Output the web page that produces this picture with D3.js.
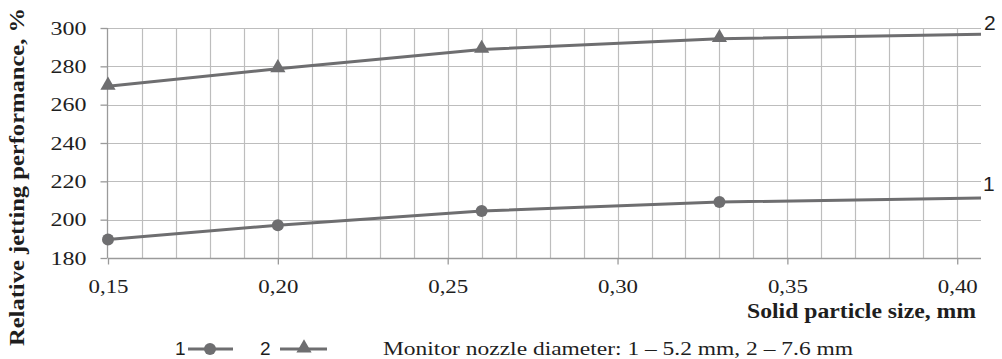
<!DOCTYPE html>
<html>
<head>
<meta charset="utf-8">
<script src="https://cdn.jsdelivr.net/npm/d3@7"></script>
<style>
  body { margin: 0; background: #fff; }
  svg { display: block; }
</style>
</head>
<body>
<script>
// data
var sizes = [0.15, 0.20, 0.26, 0.33, 0.407];
var series1 = [189.6, 197.1, 204.5, 209.2, 211.3];   // 1 - 5.2 mm
var series2 = [269.6, 278.7, 288.8, 294.4, 296.7];   // 2 - 7.6 mm
var xTicks = [0.15, 0.20, 0.25, 0.30, 0.35, 0.40];
var yTicks = [180, 200, 220, 240, 260, 280, 300];

(function(){

var width = 1002, height = 359;
var left = 108, right = 981, top = 28, bottom = 258;
var lineColor = "#6e6e70", gridColor = "#bdbdbd", textColor = "#1e1e1e";
var serif = "Liberation Serif, Times New Roman, serif",
    sans = "Liberation Sans, Arial, sans-serif";

var svg = d3.select("body").append("svg")
    .attr("width", width)
    .attr("height", height);

var x = d3.scaleLinear().domain([0.15, 0.407]).range([left, right]);
var y = d3.scaleLinear().domain([180, 300]).range([bottom, top]);

//grid lines every 0.01 and 20
var vGrid = d3.range(16, 41).map(function(d){ return d / 100; });
svg.append("g").selectAll("line")
    .data(vGrid)
    .enter().append("line")
    .attr("x1", function(d){ return Math.round(x(d)) + 0.5; })
    .attr("x2", function(d){ return Math.round(x(d)) + 0.5; })
    .attr("y1", top).attr("y2", bottom)
    .attr("stroke", gridColor).attr("stroke-width", 1.2);

svg.append("g").selectAll("line")
    .data(yTicks.slice(1))
    .enter().append("line")
    .attr("x1", left).attr("x2", right)
    .attr("y1", function(d){ return Math.round(y(d)) + 0.5; })
    .attr("y2", function(d){ return Math.round(y(d)) + 0.5; })
    .attr("stroke", gridColor).attr("stroke-width", 1.2);

//axes
var xAxis = d3.axisBottom(x)
    .tickValues(xTicks)
    .tickSize(6)
    .tickPadding(15)
    .tickFormat(function(d){ return d3.format(".2f")(d).replace(".", ","); });
var gx = svg.append("g")
    .attr("font-family", serif)
    .attr("font-size", 19)
    .attr("transform", "translate(0," + (bottom + 0.5) + ")")
    .call(xAxis);
gx.attr("font-family", serif).attr("font-size", 19);
gx.selectAll("line, path").attr("stroke", "#9a9a9a").attr("stroke-width", 1.3);
gx.select(".domain").attr("d", "M" + left + ",0H" + right);
gx.selectAll(".tick text")
    .attr("fill", textColor)
    .attr("textLength", 40).attr("lengthAdjust", "spacingAndGlyphs");

var yAxis = d3.axisLeft(y)
    .tickValues(yTicks)
    .tickSize(7)
    .tickPadding(14);
var gy = svg.append("g")
    .attr("transform", "translate(" + (left - 0.5) + ",0)")
    .call(yAxis);
gy.attr("font-family", serif).attr("font-size", 19);
gy.selectAll("line, path").attr("stroke", "#9a9a9a").attr("stroke-width", 1.3);
gy.select(".domain").attr("d", "M0," + bottom + "V" + top);
gy.selectAll(".tick text")
    .attr("fill", textColor)
    .attr("textLength", 36).attr("lengthAdjust", "spacingAndGlyphs");

//lines
var line = d3.line()
    .x(function(d, i){ return x(sizes[i]); })
    .y(function(d){ return y(d); });

[series1, series2].forEach(function(s){
    svg.append("path")
        .datum(s)
        .attr("d", line)
        .attr("fill", "none")
        .attr("stroke", lineColor)
        .attr("stroke-width", 3);
});

//markers (not on the end point)
svg.selectAll(".dot")
    .data(series1.slice(0, 4))
    .enter().append("circle")
    .attr("cx", function(d, i){ return x(sizes[i]); })
    .attr("cy", function(d){ return y(d); })
    .attr("r", 6)
    .attr("fill", lineColor);

var tri = d3.symbol().type(d3.symbolTriangle).size(100);
svg.selectAll(".tri")
    .data(series2.slice(0, 4))
    .enter().append("path")
    .attr("d", tri)
    .attr("transform", function(d, i){ return "translate(" + x(sizes[i]) + "," + (y(d) - 1) + ")"; })
    .attr("fill", lineColor);

//series labels at the end
svg.append("text")
    .attr("x", 983).attr("y", 191)
    .style("font-family", sans)
    .style("font-size", "21px").attr("fill", textColor)
    .text("1");
svg.append("text")
    .attr("x", 984).attr("y", 30)
    .style("font-family", sans)
    .style("font-size", "21px").attr("fill", textColor)
    .text("2");

//axis titles
svg.append("text")
    .attr("transform", "translate(24," + 177 + ") rotate(-90)")
    .attr("text-anchor", "middle")
    .style("font-family", serif)
    .style("font-size", "20px").style("font-weight", "bold")
    .attr("fill", textColor)
    .attr("textLength", 338).attr("lengthAdjust", "spacingAndGlyphs")
    .text("Relative jetting performance, %");

svg.append("text")
    .attr("x", 747).attr("y", 318)
    .style("font-family", serif)
    .style("font-size", "20px").style("font-weight", "bold")
    .attr("fill", textColor)
    .attr("textLength", 229).attr("lengthAdjust", "spacingAndGlyphs")
    .text("Solid particle size, mm");

//legend
var legY = 349;
var legend = [
    {label: "1", x: 175, x1: 188, x2: 233, mx: 210, sym: "circle"},
    {label: "2", x: 260, x1: 280, x2: 327, mx: 304, sym: "triangle"}
];
legend.forEach(function(l){
    svg.append("text")
        .attr("x", l.x).attr("y", legY + 6)
        .style("font-family", sans)
        .style("font-size", "19px").attr("fill", textColor)
        .text(l.label);
    svg.append("line")
        .attr("x1", l.x1).attr("x2", l.x2)
        .attr("y1", legY).attr("y2", legY)
        .attr("stroke", lineColor).attr("stroke-width", 3);
    if (l.sym == "circle"){
        svg.append("circle")
            .attr("cx", l.mx).attr("cy", legY).attr("r", 6)
            .attr("fill", lineColor);
    } else {
        svg.append("path")
            .attr("d", tri)
            .attr("transform", "translate(" + l.mx + "," + (legY - 1) + ")")
            .attr("fill", lineColor);
    }
});

svg.append("text")
    .attr("x", 383).attr("y", 355)
    .style("font-family", serif)
    .style("font-size", "19px").attr("fill", textColor)
    .attr("textLength", 470).attr("lengthAdjust", "spacingAndGlyphs")
    .text("Monitor nozzle diameter:  1 \u2013 5.2 mm, 2 \u2013 7.6 mm");

})();
</script>
</body>
</html>
